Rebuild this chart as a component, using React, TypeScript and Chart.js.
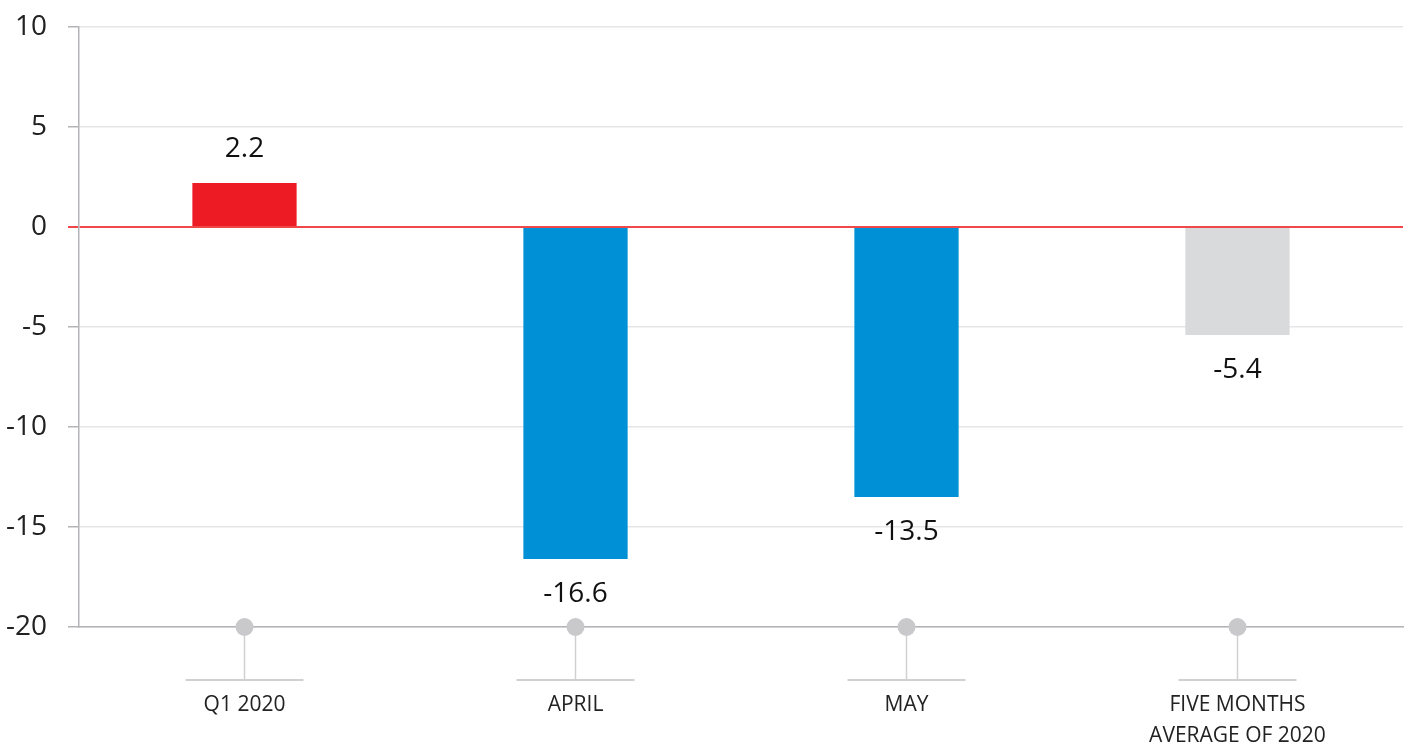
import React, { useEffect, useRef } from "react";
import { Chart, registerables } from "chart.js";

Chart.register(...registerables);

const categories: (string | string[])[] = ["Q1 2020", "APRIL", "MAY", ["FIVE MONTHS", "AVERAGE OF 2020"]];
const values: number[] = [2.2, -16.6, -13.5, -5.4];
const barColors: string[] = ["#ed1c24", "#0090d6", "#0090d6", "#d9dadc"];
const yTicks: number[] = [10, 5, 0, -5, -10, -15, -20];

const FONT = "'Open Sans', 'Noto Sans', sans-serif";

const decorPlugin = {
  id: "decor",
  afterDatasetsDraw(chart: any) {
    const ctx = chart.ctx;
    const x = chart.scales.x;
    const y = chart.scales.y;
    const base = y.getPixelForValue(-20);
    const meta = chart.getDatasetMeta(0);
    ctx.save();
    // data labels
    ctx.font = `28px ${FONT}`;
    ctx.fillStyle = "#111";
    ctx.textAlign = "center";
    ctx.textBaseline = "middle";
    meta.data.forEach((bar: any, i: number) => {
      const v = values[i];
      const yy = v >= 0 ? bar.y - 34 : bar.y + 35;
      ctx.fillText(String(v), bar.x, yy);
    });
    // category markers
    categories.forEach((_c, i) => {
      const px = x.getPixelForValue(i);
      ctx.strokeStyle = "#d0d0d2";
      ctx.lineWidth = 1.5;
      ctx.beginPath();
      ctx.moveTo(px, base);
      ctx.lineTo(px, base + 53);
      ctx.stroke();
      ctx.lineWidth = 2;
      ctx.beginPath();
      ctx.moveTo(px - 59, base + 53);
      ctx.lineTo(px + 59, base + 53);
      ctx.stroke();
      ctx.fillStyle = "#c9c9cc";
      ctx.beginPath();
      ctx.arc(px, base, 9, 0, Math.PI * 2);
      ctx.fill();
    });
    ctx.restore();
  },
};

export default function App() {
  const ref = useRef<HTMLCanvasElement | null>(null);
  useEffect(() => {
    document.body.style.margin = "0";
    if (!ref.current) return;
    const chart = new Chart(ref.current, {
      type: "bar",
      data: {
        labels: categories,
        datasets: [
          {
            data: values,
            backgroundColor: barColors,
            barPercentage: 0.315,
            categoryPercentage: 1,
          },
        ],
      },
      options: {
        responsive: false,
        animation: false,
        layout: { padding: { top: 27, right: 5, left: 0, bottom: 0 } },
        plugins: { legend: { display: false }, tooltip: { enabled: false } },
        scales: {
          x: {
            grid: { display: false, drawTicks: false },
            border: { display: true, color: "#b4b4b8", width: 1.5 },
            ticks: {
              padding: 62,
              color: "#222",
              font: { family: FONT, size: 21, lineHeight: 1.48 },
              maxRotation: 0,
              autoSkip: false,
            },
            afterFit(scale: any) {
              scale.height = 119;
              scale.paddingLeft = 0;
              scale.paddingRight = 0;
            },
          },
          y: {
            min: -20,
            max: 10,
            afterBuildTicks(scale: any) {
              scale.ticks = yTicks.map((v) => ({ value: v }));
            },
            grid: {
              color: (c: any) => (c.tick && c.tick.value === 0 ? "#f04848" : "#e6e6e8"),
              tickColor: (c: any) => (c.tick && c.tick.value === 0 ? "#f04848" : "#b4b4b8"),
              lineWidth: (c: any) => (c.tick && c.tick.value === 0 ? 2 : 1.5),
              tickLength: 11,
            },
            border: { display: true, color: "#b4b4b8", width: 1.5 },
            ticks: {
              padding: 21,
              color: "#222",
              font: { family: FONT, size: 28 },
            },
            afterFit(scale: any) {
              scale.width = 79;
              scale.paddingTop = 0;
              scale.paddingBottom = 0;
            },
          },
        },
      },
      plugins: [decorPlugin],
    });
    return () => chart.destroy();
  }, []);
  return (
    <div style={{ width: 1408, height: 746 }}>
      <canvas ref={ref} width={1408} height={746} style={{ width: 1408, height: 746, display: "block" }} />
    </div>
  );
}
